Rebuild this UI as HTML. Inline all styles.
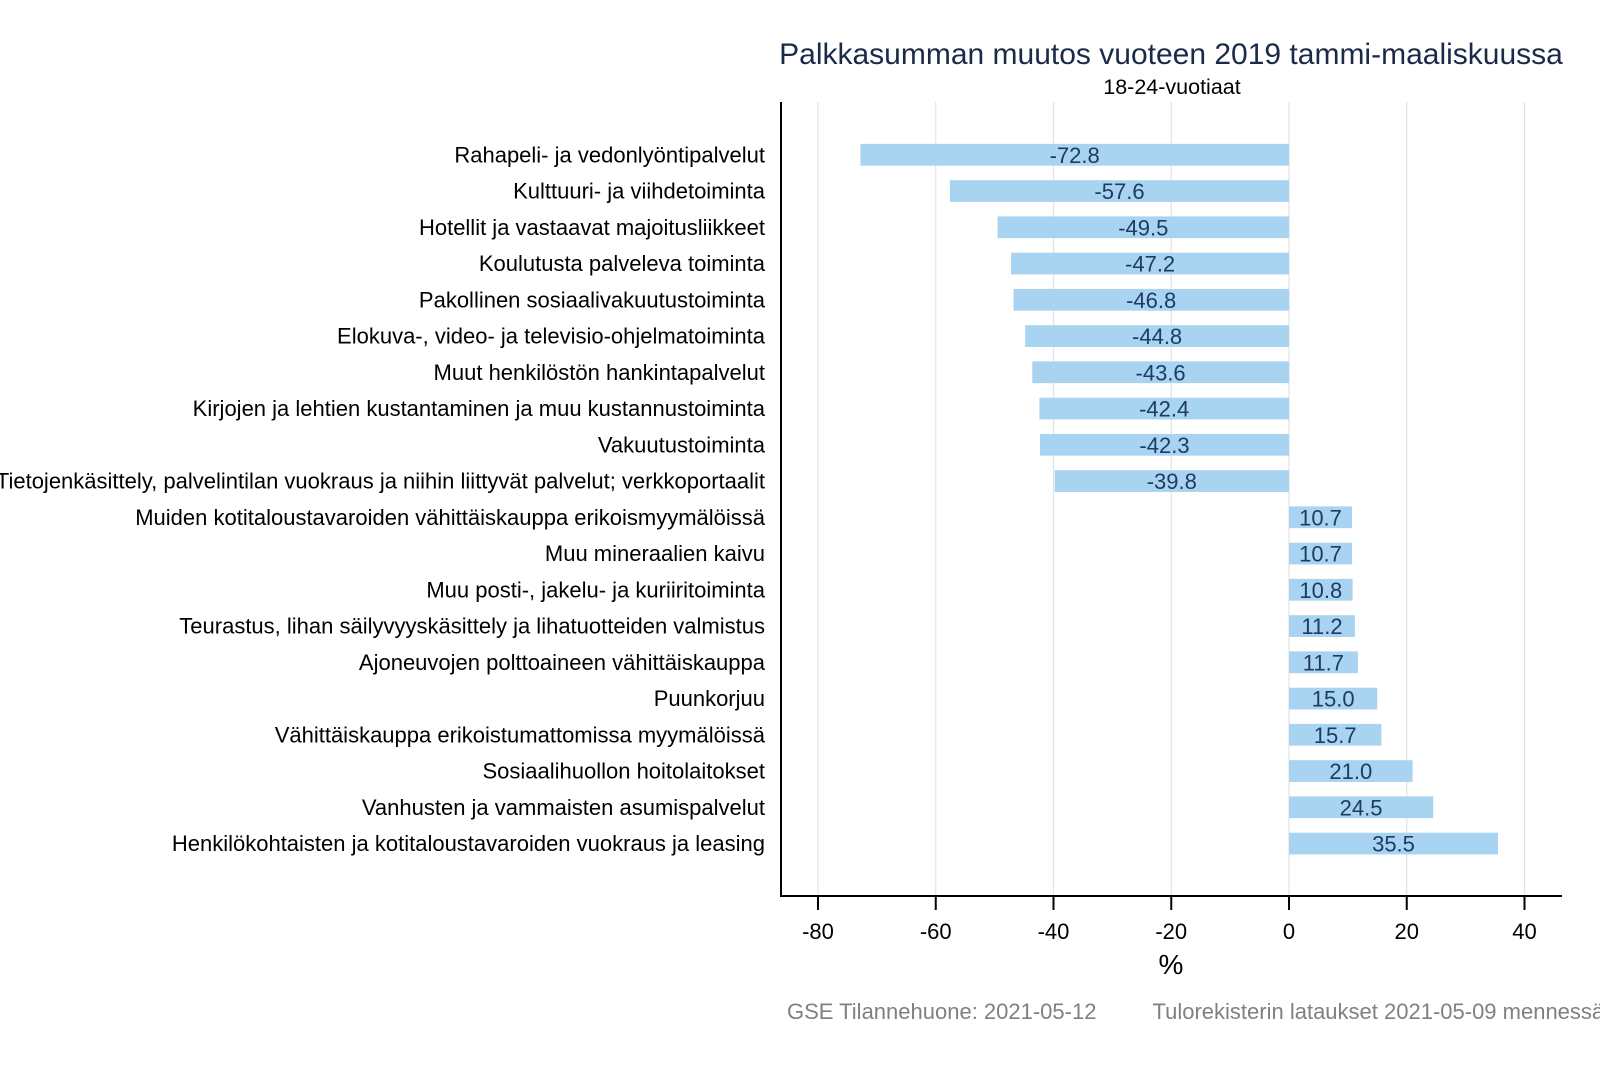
<!DOCTYPE html>
<html><head><meta charset="utf-8"><style>
html,body{margin:0;padding:0;background:#fff;}
svg{display:block;}
text{font-family:"Liberation Sans",Arial,sans-serif;}
</style></head><body>
<svg width="1600" height="1067" viewBox="0 0 1600 1067" xmlns="http://www.w3.org/2000/svg">
<rect width="1600" height="1067" fill="#fff"/>
<!-- title -->
<text x="1171" y="64" font-size="30" fill="#1a2a48" text-anchor="middle">Palkkasumman muutos vuoteen 2019 tammi-maaliskuussa</text>
<text x="1172" y="94" font-size="21.5" fill="#000" text-anchor="middle">18-24-vuotiaat</text>
<!-- gridlines -->
<g stroke="#e3e3e3" stroke-width="1.2">
<line x1="818" y1="102" x2="818" y2="896"/>
<line x1="935.75" y1="102" x2="935.75" y2="896"/>
<line x1="1053.5" y1="102" x2="1053.5" y2="896"/>
<line x1="1171.25" y1="102" x2="1171.25" y2="896"/>
<line x1="1289" y1="102" x2="1289" y2="896"/>
<line x1="1406.75" y1="102" x2="1406.75" y2="896"/>
<line x1="1524.5" y1="102" x2="1524.5" y2="896"/>
</g>
<!-- bars -->
<g fill="#a8d3f1">
<rect x="860.4" y="143.9" width="428.6" height="21.75"/>
<rect x="949.9" y="180.2" width="339.1" height="21.75"/>
<rect x="997.6" y="216.4" width="291.4" height="21.75"/>
<rect x="1011.1" y="252.7" width="277.9" height="21.75"/>
<rect x="1013.5" y="288.9" width="275.5" height="21.75"/>
<rect x="1025.2" y="325.2" width="263.8" height="21.75"/>
<rect x="1032.3" y="361.4" width="256.7" height="21.75"/>
<rect x="1039.4" y="397.7" width="249.6" height="21.75"/>
<rect x="1040.0" y="433.9" width="249.0" height="21.75"/>
<rect x="1054.7" y="470.2" width="234.3" height="21.75"/>
<rect x="1289" y="506.4" width="63.0" height="21.75"/>
<rect x="1289" y="542.7" width="63.0" height="21.75"/>
<rect x="1289" y="578.9" width="63.6" height="21.75"/>
<rect x="1289" y="615.2" width="65.9" height="21.75"/>
<rect x="1289" y="651.4" width="68.9" height="21.75"/>
<rect x="1289" y="687.7" width="88.3" height="21.75"/>
<rect x="1289" y="723.9" width="92.4" height="21.75"/>
<rect x="1289" y="760.2" width="123.6" height="21.75"/>
<rect x="1289" y="796.4" width="144.2" height="21.75"/>
<rect x="1289" y="832.7" width="209.0" height="21.75"/>
</g>
<!-- bar labels -->
<g font-size="22" fill="#1f3b63" text-anchor="middle">
<text x="1074.7" y="162.8">-72.8</text>
<text x="1119.5" y="199.05">-57.6</text>
<text x="1143.3" y="235.3">-49.5</text>
<text x="1150.1" y="271.55">-47.2</text>
<text x="1151.2" y="307.8">-46.8</text>
<text x="1157.1" y="344.05">-44.8</text>
<text x="1160.6" y="380.3">-43.6</text>
<text x="1164.2" y="416.55">-42.4</text>
<text x="1164.5" y="452.8">-42.3</text>
<text x="1171.8" y="489.05">-39.8</text>
<text x="1320.5" y="525.3">10.7</text>
<text x="1320.5" y="561.55">10.7</text>
<text x="1320.8" y="597.8">10.8</text>
<text x="1322" y="634.05">11.2</text>
<text x="1323.4" y="670.3">11.7</text>
<text x="1333.2" y="706.55">15.0</text>
<text x="1335.2" y="742.8">15.7</text>
<text x="1350.8" y="779.05">21.0</text>
<text x="1361.1" y="815.3">24.5</text>
<text x="1393.5" y="851.55">35.5</text>
</g>
<!-- category labels -->
<g font-size="22" fill="#000" text-anchor="end">
<text x="765" y="162.3">Rahapeli- ja vedonlyöntipalvelut</text>
<text x="765" y="198.55">Kulttuuri- ja viihdetoiminta</text>
<text x="765" y="234.8">Hotellit ja vastaavat majoitusliikkeet</text>
<text x="765" y="271.05">Koulutusta palveleva toiminta</text>
<text x="765" y="307.3">Pakollinen sosiaalivakuutustoiminta</text>
<text x="765" y="343.55">Elokuva-, video- ja televisio-ohjelmatoiminta</text>
<text x="765" y="379.8">Muut henkilöstön hankintapalvelut</text>
<text x="765" y="416.05">Kirjojen ja lehtien kustantaminen ja muu kustannustoiminta</text>
<text x="765" y="452.3">Vakuutustoiminta</text>
<text x="765" y="488.55">Tietojenkäsittely, palvelintilan vuokraus ja niihin liittyvät palvelut; verkkoportaalit</text>
<text x="765" y="524.8">Muiden kotitaloustavaroiden vähittäiskauppa erikoismyymälöissä</text>
<text x="765" y="561.05">Muu mineraalien kaivu</text>
<text x="765" y="597.3">Muu posti-, jakelu- ja kuriiritoiminta</text>
<text x="765" y="633.55">Teurastus, lihan säilyvyyskäsittely ja lihatuotteiden valmistus</text>
<text x="765" y="669.8">Ajoneuvojen polttoaineen vähittäiskauppa</text>
<text x="765" y="706.05">Puunkorjuu</text>
<text x="765" y="742.3">Vähittäiskauppa erikoistumattomissa myymälöissä</text>
<text x="765" y="778.55">Sosiaalihuollon hoitolaitokset</text>
<text x="765" y="814.8">Vanhusten ja vammaisten asumispalvelut</text>
<text x="765" y="851.05">Henkilökohtaisten ja kotitaloustavaroiden vuokraus ja leasing</text>
</g>
<!-- axes -->
<line x1="781" y1="102" x2="781" y2="897" stroke="#000" stroke-width="2"/>
<line x1="780" y1="896" x2="1562" y2="896" stroke="#000" stroke-width="2"/>
<g stroke="#000" stroke-width="2">
<line x1="818" y1="896" x2="818" y2="910"/>
<line x1="935.75" y1="896" x2="935.75" y2="910"/>
<line x1="1053.5" y1="896" x2="1053.5" y2="910"/>
<line x1="1171.25" y1="896" x2="1171.25" y2="910"/>
<line x1="1289" y1="896" x2="1289" y2="910"/>
<line x1="1406.75" y1="896" x2="1406.75" y2="910"/>
<line x1="1524.5" y1="896" x2="1524.5" y2="910"/>
</g>
<g font-size="22" fill="#000" text-anchor="middle">
<text x="818" y="939">-80</text>
<text x="935.75" y="939">-60</text>
<text x="1053.5" y="939">-40</text>
<text x="1171.25" y="939">-20</text>
<text x="1289" y="939">0</text>
<text x="1406.75" y="939">20</text>
<text x="1524.5" y="939">40</text>
</g>
<text x="1171" y="974" font-size="28" fill="#000" text-anchor="middle">%</text>
<!-- footer -->
<text x="787" y="1019" font-size="22" fill="#808080">GSE Tilannehuone: 2021-05-12</text>
<text x="1152.5" y="1019" font-size="22" fill="#808080">Tulorekisterin lataukset 2021-05-09 mennessä</text>
</svg>
</body></html>
